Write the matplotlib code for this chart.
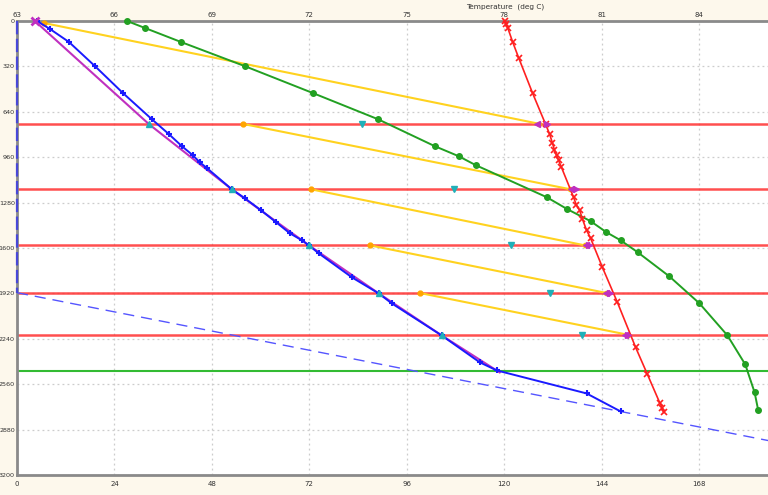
import numpy as np
import matplotlib
matplotlib.use('Agg')
import matplotlib.pyplot as plt

# blue profile (+ markers)
blue_t = [4.9, 8.1, 12.8, 19.2, 26.1, 33.2, 37.4, 40.6, 43.3, 45.0, 46.8, 52.9, 56.1, 60.1,
          63.8, 67.2, 70.2, 71.9, 74.3, 82.5, 89.1, 92.3, 104.6, 114.0, 118.2, 140.3, 148.7]
blue_d = [0, 56, 148, 318, 508, 692, 797, 882, 946, 995, 1037, 1186, 1249, 1334,
          1418, 1496, 1546, 1581, 1637, 1807, 1920, 1990, 2216, 2406, 2463, 2625, 2752]

# magenta profile
mag_t = [4.4, 32.5, 52.9, 71.9, 89.1, 104.6, 118.9]
mag_d = [0, 727, 1186, 1581, 1920, 2216, 2477]

# green profile (circles)
green_t = [27.1, 31.5, 40.4, 56.1, 72.9, 88.9, 102.9, 108.8, 113.0, 130.5, 135.6, 141.3,
           145.2, 148.7, 152.9, 160.7, 168.1, 175.0, 179.4, 181.7, 182.6]
green_d = [0, 49, 148, 318, 508, 692, 882, 953, 1016, 1242, 1327, 1411,
           1489, 1546, 1630, 1800, 1990, 2216, 2421, 2618, 2745]

# red profile (x markers)
red_t = [120.1, 120.4, 120.9, 122.1, 123.6, 127.0, 130.2, 131.2, 131.9, 132.4, 132.9, 133.4,
         134.1, 137.1, 137.8, 138.6, 139.3, 140.3, 141.3, 144.2, 147.9, 152.4, 155.3,
         158.3, 159.0, 159.3]
red_d = [0, 20, 49, 148, 261, 508, 727, 797, 861, 910, 946, 981,
         1030, 1242, 1298, 1334, 1397, 1475, 1531, 1736, 1983, 2301, 2491,
         2689, 2730, 2759]

# horizontal levels
red_levels = [725, 1186, 1581, 1917, 2211]
green_level = 2468

# yellow connectors (start -> end)
yel_t0 = [6.6, 55.6, 72.4, 86.9, 99.2]
yel_d0 = [14, 725, 1186, 1581, 1917]
yel_t1 = [128.7, 136.3, 139.8, 145.2, 150.4]
yel_d1 = [725, 1186, 1581, 1917, 2211]

# markers on the levels
mag_left_t = [128.2, 136.4, 140.1, 145.0, 149.7]
mag_right_t = [130.5, 137.8, 141.0, 146.2, 150.4]
cyan_down_t = [84.9, 107.6, 121.6, 131.4, 139.3]
cyan_up_t = [32.5, 52.9, 71.9, 89.1, 104.6]

# dashed blue line
dash_t = [0, 0, 190]
dash_d = [0, 1915, 2985]

xticks = [0, 24, 48, 72, 96, 120, 144, 168]
yticks = [0, 320, 640, 960, 1280, 1600, 1920, 2240, 2560, 2880, 3200]
top_ticks = [63, 66, 69, 72, 75, 78, 81, 84]

fig = plt.figure(figsize=(7.68, 4.95), dpi=100, facecolor='#fdf8ec')
ax = fig.add_axes([17/768, 20/495, 751/768, 454/495])
ax.set_facecolor('white')

for lv in red_levels:
    ax.axhline(lv, color='#ff3030', lw=1.8, alpha=0.85, zorder=2)
ax.axhline(green_level, color='#33bb33', lw=1.5, zorder=2)

ax.plot(dash_t[1:], dash_d[1:], color='#5555ff', lw=1.0, ls=(0, (8, 5)), zorder=3)
ax.plot(dash_t[:2], dash_d[:2], color='#4848d8', lw=1.6, ls=(0, (6, 2)), zorder=7, clip_on=False)

for i in range(len(yel_t0)):
    ax.plot([yel_t0[i], yel_t1[i]], [yel_d0[i], yel_d1[i]], color='#ffd21f', lw=1.5, zorder=3)
ax.plot(yel_t0, yel_d0, 'o', color='#ffa500', ms=3.5, zorder=5, clip_on=False)
ax.plot(yel_t1, yel_d1, 'o', color='#ffc000', ms=3, zorder=4)

ax.plot(green_t, green_d, '-o', color='#22a022', lw=1.4, ms=4, zorder=4, clip_on=False)
ax.plot(red_t, red_d, '-x', color='#ff2020', lw=1.2, ms=5, mew=1.2, zorder=4, clip_on=False)
ax.plot(mag_t, mag_d, '-', color='#c030c0', lw=1.5, zorder=4)
ax.plot(mag_t[0], mag_d[0], 'x', color='#c030c0', ms=6, mew=2, zorder=6, clip_on=False)
ax.plot(blue_t, blue_d, '-+', color='#1a1aff', lw=1.4, ms=5, mew=1.5, zorder=5, clip_on=False)

ax.plot(mag_left_t, yel_d1, '<', color='#c030c0', ms=4.5, zorder=6)
ax.plot(mag_right_t, yel_d1, '>', color='#c030c0', ms=4.5, zorder=6)
ax.plot(cyan_down_t, red_levels, 'v', color='#20b0b8', ms=5, zorder=6)
ax.plot(cyan_up_t, red_levels, '^', color='#20b0b8', ms=5, zorder=6)

ax.set_xlim(0, 185)
ax.set_ylim(3200, 0)
ax.set_xticks(xticks)
ax.set_yticks(yticks)
ax.grid(True, color='#cccccc', ls=(0, (1.5, 2.5)), lw=0.9)
ax.set_axisbelow(True)
ax.tick_params(axis='x', length=0, labelsize=5, labelcolor='#333333', pad=4)
ax.tick_params(axis='y', length=0, labelsize=4.6, labelcolor='#333333', pad=1.5)

for side in ['left', 'bottom', 'top']:
    ax.spines[side].set_color('#8a8a8a')
    ax.spines[side].set_linewidth(2)
ax.spines['right'].set_visible(False)

sec = ax.secondary_xaxis('top', functions=(lambda x: x / 8 + 63, lambda t: (t - 63) * 8))
sec.set_xticks(top_ticks)
sec.tick_params(length=0, labelsize=5, labelcolor='#333333', pad=2)
sec.spines['top'].set_visible(False)
ax.text(0.65, 1.031, 'Temperature  (deg C)', transform=ax.transAxes, ha='center', va='center',
        fontsize=5.3, color='#333333')

fig.savefig('out.png', dpi=100, facecolor=fig.get_facecolor())
